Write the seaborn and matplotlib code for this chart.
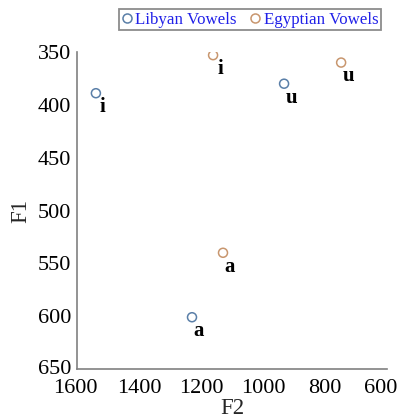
import matplotlib
matplotlib.use("Agg")
import matplotlib.pyplot as plt
from matplotlib.lines import Line2D
from matplotlib.transforms import ScaledTranslation
import seaborn as sns
import pandas as pd

# Formant values (Hz) per vowel and dialect
vowels = ["i", "u", "a"]
libyan_f1 = [389, 380, 601]
libyan_f2 = [1539, 932, 1229]
egyptian_f1 = [353, 360, 540]
egyptian_f2 = [1161, 748, 1129]

groups = ["Libyan Vowels", "Egyptian Vowels"]
colors = {"Libyan Vowels": "#5a7fa8", "Egyptian Vowels": "#c8966e"}

df = pd.DataFrame({
    "F2": libyan_f2 + egyptian_f2,
    "F1": libyan_f1 + egyptian_f1,
    "vowel": vowels + vowels,
    "group": [groups[0]] * 3 + [groups[1]] * 3,
})

sns.set_style("white")
plt.rcParams["font.family"] = ["Liberation Serif", "DejaVu Serif"]

fig = plt.figure(figsize=(4.02, 4.19), dpi=100)
ax = fig.add_axes([0.1915, 0.1193, 0.7712, 0.7566])

for g in groups:
    sub = df[df["group"] == g]
    sns.scatterplot(data=sub, x="F2", y="F1", ax=ax, marker="o", s=42,
                    facecolor="none", edgecolor=colors[g], linewidth=1.1,
                    legend=False)

for _, row in df.iterrows():
    ax.annotate(row["vowel"], (row["F2"], row["F1"]), xytext=(5, -10),
                textcoords="offset points", ha="center", va="center",
                fontsize=15, fontweight="bold", color="black")

ax.set_xlim(1600, 600)
ax.set_ylim(650, 350)
ax.set_xticks([1600, 1400, 1200, 1000, 800, 600])
ax.set_yticks([350, 400, 450, 500, 550, 600, 650])
ax.tick_params(direction="in", length=4, width=1, color="#808080",
               labelsize=16, labelcolor="black")
ax.tick_params(axis="x", pad=7)
ax.tick_params(axis="y", pad=4)
ax.set_xlabel("F2", fontsize=16.5, labelpad=0)
ax.set_ylabel("F1", fontsize=16.5, labelpad=5)
for side in ["top", "right"]:
    ax.spines[side].set_visible(False)
for side in ["left", "bottom"]:
    ax.spines[side].set_color("#808080")
    ax.spines[side].set_linewidth(1.2)

# keep the end tick labels inside the figure
xlabels = ax.get_xticklabels()
xlabels[-1].set_transform(xlabels[-1].get_transform()
                          + ScaledTranslation(-6 / 100, 0, fig.dpi_scale_trans))
xlabels[0].set_transform(xlabels[0].get_transform()
                         + ScaledTranslation(-2 / 100, 0, fig.dpi_scale_trans))
ylabels = ax.get_yticklabels()
ylabels[-1].set_transform(ylabels[-1].get_transform()
                          + ScaledTranslation(0, 2 / 100, fig.dpi_scale_trans))

handles = [Line2D([0], [0], marker="o", linestyle="none", markersize=6.5,
                  markerfacecolor="none", markeredgecolor=colors[g],
                  markeredgewidth=1.1, label=g) for g in groups]
leg = fig.legend(handles=handles, loc="upper right",
                 bbox_to_anchor=(381 / 402, 1 - 9 / 419), ncol=2,
                 frameon=True, fancybox=False, fontsize=12.2,
                 handlelength=0.6, handletextpad=0.2, columnspacing=0.8,
                 borderpad=0.15, borderaxespad=0)
leg.get_frame().set_edgecolor("#707070")
leg.get_frame().set_linewidth(1.3)
for t in leg.get_texts():
    t.set_color("#2020e8")

fig.savefig("out.png", dpi=100)
